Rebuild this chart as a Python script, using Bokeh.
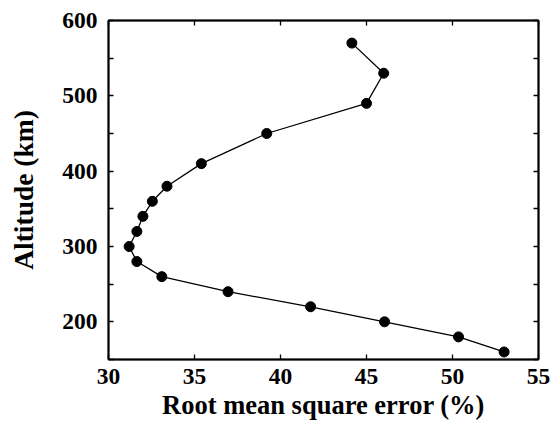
from bokeh.plotting import figure
from bokeh.models import LinearAxis, FixedTicker, Range1d
from bokeh.embed import file_html
from bokeh.resources import INLINE

rmse = [44.15, 46.0, 45.0, 39.2, 35.4, 33.4, 32.55, 32.0, 31.65, 31.2, 31.65, 33.1, 36.95, 41.75, 46.05, 50.35, 53.0]
altitude = [570, 530, 490, 450, 410, 380, 360, 340, 320, 300, 280, 260, 240, 220, 200, 180, 160]
x_ticks = [30, 35, 40, 45, 50, 55]
y_ticks = [200, 300, 400, 500, 600]
y_minor = [150, 250, 350, 450, 550]

FONT = "Liberation Serif"

p = figure(width=552, height=428, output_backend="svg", toolbar_location=None,
           x_range=Range1d(30, 55), y_range=Range1d(150, 600),
           min_border_left=108, min_border_right=14, min_border_top=20, min_border_bottom=69,
           background_fill_color="white", border_fill_color="white")
p.xgrid.visible = False
p.ygrid.visible = False
p.outline_line_color = "black"
p.outline_line_width = 1.5

p.line(rmse, altitude, line_color="black", line_width=1.3)
p.scatter(rmse, altitude, size=10, fill_color="black", line_color="black")

def style(ax, labels=True):
    ax.axis_line_color = "black"
    ax.axis_line_width = 2
    ax.major_tick_in = 5
    ax.major_tick_out = 0
    ax.minor_tick_in = 5
    ax.minor_tick_out = 0
    ax.major_tick_line_width = 1.3
    ax.minor_tick_line_width = 1.3
    ax.major_label_text_font = FONT
    ax.major_label_text_font_style = "bold"
    ax.major_label_text_font_size = "23.5px"
    ax.major_label_text_color = "black"
    ax.axis_label_text_font = FONT
    ax.axis_label_text_font_style = "bold"
    ax.axis_label_text_font_size = "26.5px"
    ax.axis_label_text_color = "black"
    if not labels:
        ax.major_label_text_color = None
        ax.major_label_standoff = 0

xa = p.xaxis[0]
xa.ticker = FixedTicker(ticks=x_ticks)
xa.axis_label = "Root mean square error (%)"
style(xa)
xa.major_label_standoff = 9
xa.axis_label_standoff = 3

ya = p.yaxis[0]
ya.ticker = FixedTicker(ticks=y_ticks, minor_ticks=y_minor)
ya.axis_label = "Altitude (km)"
style(ya)
ya.axis_label_text_font_size = "27.5px"
ya.major_label_standoff = 11
ya.axis_label_standoff = 20

top = LinearAxis(ticker=FixedTicker(ticks=x_ticks))
style(top, labels=False)
p.add_layout(top, "above")

right = LinearAxis(ticker=FixedTicker(ticks=y_ticks, minor_ticks=y_minor))
style(right, labels=False)
p.add_layout(right, "right")

open("out.html", "w").write(file_html(p, INLINE))
